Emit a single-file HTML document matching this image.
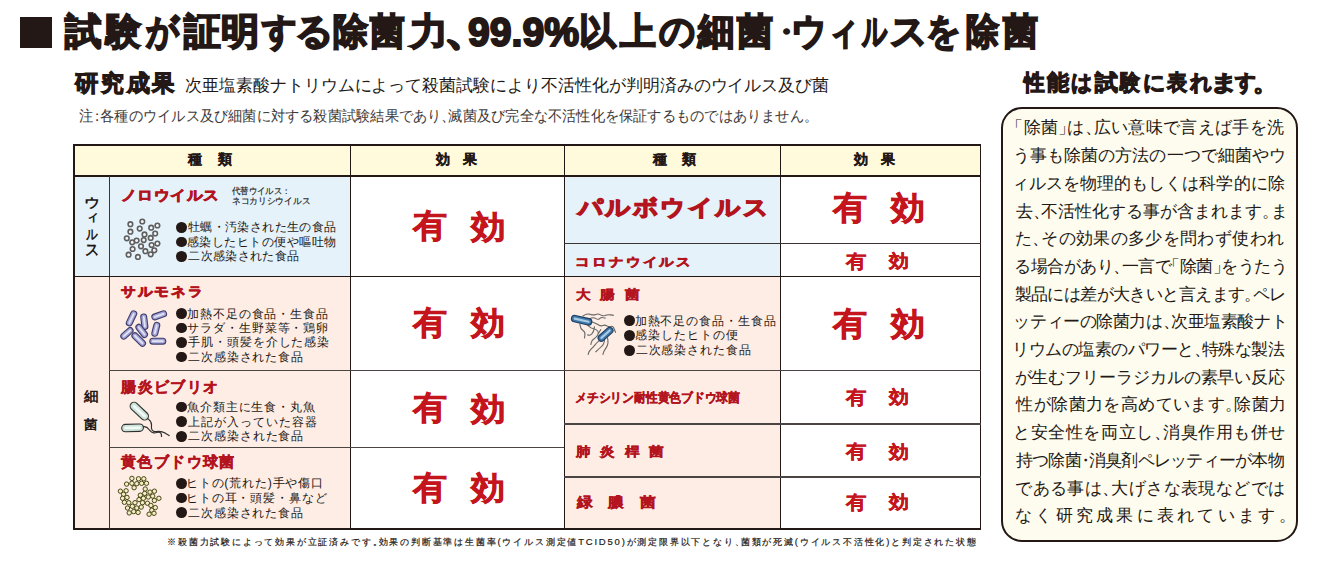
<!DOCTYPE html>
<html lang="ja">
<head>
<meta charset="utf-8">
<style>
html,body{margin:0;padding:0;background:#fff;}
body{width:1323px;height:565px;position:relative;overflow:hidden;font-family:"Liberation Sans",sans-serif;color:#231815;}
.t{position:absolute;white-space:nowrap;line-height:1;transform-origin:0 0;}
.r{position:absolute;}
.ln{position:absolute;background:#231815;}
.box{position:absolute;left:1001px;top:107px;width:293px;height:431px;border:2px solid #231815;border-radius:21px;background:#fdfcee;}
svg{position:absolute;}
.b{position:absolute;border-radius:50%;background:#231815;}
</style>
</head>
<body>
<!-- title square -->
<div class="r" style="left:20px;top:17px;width:32px;height:31px;background:#231815"></div>
<!-- right box -->
<div class="box"></div>
<!-- table backgrounds -->
<div class="r" style="left:74px;top:145px;width:906px;height:30px;background:#fffadc"></div>
<div class="r" style="left:75px;top:176px;width:275px;height:100px;background:#e5f2fa"></div>
<div class="r" style="left:75px;top:276px;width:275px;height:253px;background:#fdede5"></div>
<div class="r" style="left:564px;top:176px;width:216px;height:100px;background:#e5f2fa"></div>
<div class="r" style="left:564px;top:276px;width:216px;height:253px;background:#fdede5"></div>
<!-- table lines -->
<div class="ln" style="left:73px;top:144px;width:908px;height:2px"></div>
<div class="ln" style="left:73px;top:174.5px;width:908px;height:2.5px"></div>
<div class="ln" style="left:73px;top:528px;width:908px;height:2px"></div>
<div class="ln" style="left:73px;top:144px;width:2px;height:386px"></div>
<div class="ln" style="left:979.5px;top:144px;width:1.5px;height:386px"></div>
<div class="ln" style="left:108.5px;top:176px;width:1.2px;height:353px;background:#3a3533"></div>
<div class="ln" style="left:349.5px;top:144px;width:1.4px;height:386px"></div>
<div class="ln" style="left:563.5px;top:144px;width:1.6px;height:386px"></div>
<div class="ln" style="left:779.8px;top:144px;width:1.4px;height:386px"></div>
<div class="ln" style="left:73px;top:275.5px;width:908px;height:1.6px"></div>
<div class="ln" style="left:109px;top:369.6px;width:872px;height:1.5px;background:#4a4443"></div>
<div class="ln" style="left:109px;top:446.8px;width:455px;height:1.5px;background:#4a4443"></div>
<div class="ln" style="left:564px;top:242.5px;width:417px;height:1.5px;background:#3a3533"></div>
<div class="ln" style="left:564px;top:423px;width:417px;height:1.5px;background:#4a4443"></div>
<div class="ln" style="left:564px;top:476.3px;width:417px;height:1.5px;background:#4a4443"></div>
<svg style="left:0;top:0" width="1323" height="565" viewBox="0 0 1323 565"><g fill="#f2f5f7" stroke="#5e5e5e" stroke-width="1.6"><circle cx="130.4" cy="224.2" r="2.3"/><circle cx="142.3" cy="221.5" r="2.3"/><circle cx="139.7" cy="228.6" r="2.3"/><circle cx="151.2" cy="227.7" r="2.3"/><circle cx="157.4" cy="225.5" r="2.3"/><circle cx="130.4" cy="231.7" r="2.3"/><circle cx="144.5" cy="234.4" r="2.3"/><circle cx="155.2" cy="233.5" r="2.3"/><circle cx="126.8" cy="238.3" r="2.3"/><circle cx="132.2" cy="242.3" r="2.3"/><circle cx="136.6" cy="240.5" r="2.3"/><circle cx="143.7" cy="240.1" r="2.3"/><circle cx="150.7" cy="237.9" r="2.3"/><circle cx="157.4" cy="243.6" r="2.3"/><circle cx="151.6" cy="245.0" r="2.3"/><circle cx="141.0" cy="246.3" r="2.3"/><circle cx="132.6" cy="249.0" r="2.3"/><circle cx="145.4" cy="251.2" r="2.3"/><circle cx="154.3" cy="250.3" r="2.3"/><circle cx="128.6" cy="254.7" r="2.3"/><circle cx="137.9" cy="256.9" r="2.3"/><circle cx="150.7" cy="254.3" r="2.3"/></g><line x1="133.7" y1="313.8" x2="129.3" y2="322.9" stroke="#3d3d6b" stroke-width="7.0" stroke-linecap="round"/><line x1="133.7" y1="313.8" x2="129.3" y2="322.9" stroke="#a2a2d4" stroke-width="4.8" stroke-linecap="round"/><line x1="133.7" y1="313.8" x2="129.3" y2="322.9" stroke="#e2e2f5" stroke-width="1.9" stroke-linecap="round"/><line x1="143.7" y1="316.9" x2="144.9" y2="326.5" stroke="#3d3d6b" stroke-width="7.0" stroke-linecap="round"/><line x1="143.7" y1="316.9" x2="144.9" y2="326.5" stroke="#a2a2d4" stroke-width="4.8" stroke-linecap="round"/><line x1="143.7" y1="316.9" x2="144.9" y2="326.5" stroke="#e2e2f5" stroke-width="1.9" stroke-linecap="round"/><line x1="154.8" y1="316.9" x2="163.6" y2="313.8" stroke="#3d3d6b" stroke-width="7.0" stroke-linecap="round"/><line x1="154.8" y1="316.9" x2="163.6" y2="313.8" stroke="#a2a2d4" stroke-width="4.8" stroke-linecap="round"/><line x1="154.8" y1="316.9" x2="163.6" y2="313.8" stroke="#e2e2f5" stroke-width="1.9" stroke-linecap="round"/><line x1="156.8" y1="325.3" x2="154.8" y2="333.3" stroke="#3d3d6b" stroke-width="7.0" stroke-linecap="round"/><line x1="156.8" y1="325.3" x2="154.8" y2="333.3" stroke="#a2a2d4" stroke-width="4.8" stroke-linecap="round"/><line x1="156.8" y1="325.3" x2="154.8" y2="333.3" stroke="#e2e2f5" stroke-width="1.9" stroke-linecap="round"/><line x1="130.1" y1="330.5" x2="123.8" y2="336.1" stroke="#3d3d6b" stroke-width="7.0" stroke-linecap="round"/><line x1="130.1" y1="330.5" x2="123.8" y2="336.1" stroke="#a2a2d4" stroke-width="4.8" stroke-linecap="round"/><line x1="130.1" y1="330.5" x2="123.8" y2="336.1" stroke="#e2e2f5" stroke-width="1.9" stroke-linecap="round"/><line x1="138.9" y1="327.3" x2="144.5" y2="334.5" stroke="#3d3d6b" stroke-width="7.0" stroke-linecap="round"/><line x1="138.9" y1="327.3" x2="144.5" y2="334.5" stroke="#a2a2d4" stroke-width="4.8" stroke-linecap="round"/><line x1="138.9" y1="327.3" x2="144.5" y2="334.5" stroke="#e2e2f5" stroke-width="1.9" stroke-linecap="round"/><line x1="134.9" y1="335.7" x2="142.5" y2="343.2" stroke="#3d3d6b" stroke-width="7.0" stroke-linecap="round"/><line x1="134.9" y1="335.7" x2="142.5" y2="343.2" stroke="#a2a2d4" stroke-width="4.8" stroke-linecap="round"/><line x1="134.9" y1="335.7" x2="142.5" y2="343.2" stroke="#e2e2f5" stroke-width="1.9" stroke-linecap="round"/><line x1="152.8" y1="341.2" x2="162.8" y2="341.2" stroke="#3d3d6b" stroke-width="7.0" stroke-linecap="round"/><line x1="152.8" y1="341.2" x2="162.8" y2="341.2" stroke="#a2a2d4" stroke-width="4.8" stroke-linecap="round"/><line x1="152.8" y1="341.2" x2="162.8" y2="341.2" stroke="#e2e2f5" stroke-width="1.9" stroke-linecap="round"/><g fill="none" stroke="#2e2e2e" stroke-width="1.2"><path d="M146.5,417.5 C149,420 152,421 151.5,425 C151,429 152,432 156,431.5 C160,431 162,431 165,433 C167,434.5 169,435 169.5,436"/><path d="M140.5,427.6 C144,426 147,426.5 149,429.5 C151,432.5 154,433.5 157,432.5 C160,431.5 162,433 161.5,437"/></g><line x1="134.1" y1="406.2" x2="144.5" y2="416.1" stroke="#2e2e2e" stroke-width="9" stroke-linecap="round"/><line x1="134.1" y1="406.2" x2="144.5" y2="416.1" stroke="#cde3da" stroke-width="6.8" stroke-linecap="round"/><line x1="134.1" y1="406.2" x2="144.5" y2="416.1" stroke="#f2faf6" stroke-width="2.7" stroke-linecap="round"/><line x1="125.4" y1="428.1" x2="139.7" y2="427.7" stroke="#2e2e2e" stroke-width="8.5" stroke-linecap="round"/><line x1="125.4" y1="428.1" x2="139.7" y2="427.7" stroke="#cde3da" stroke-width="6.3" stroke-linecap="round"/><line x1="125.4" y1="428.1" x2="139.7" y2="427.7" stroke="#f2faf6" stroke-width="2.5" stroke-linecap="round"/><g fill="#f1efc2" stroke="#4a4418" stroke-width="1.0"><circle cx="131.9" cy="478.4" r="2.2"/><circle cx="138.5" cy="478.8" r="2.2"/><circle cx="143.8" cy="478.8" r="2.2"/><circle cx="126.6" cy="484.1" r="2.2"/><circle cx="131.9" cy="483.3" r="2.2"/><circle cx="136.8" cy="483.7" r="2.2"/><circle cx="141.6" cy="483.3" r="2.2"/><circle cx="146.5" cy="483.3" r="2.2"/><circle cx="134.1" cy="487.7" r="2.2"/><circle cx="120.4" cy="491.2" r="2.2"/><circle cx="126.1" cy="490.8" r="2.2"/><circle cx="123.5" cy="494.3" r="2.2"/><circle cx="122.6" cy="498.3" r="2.2"/><circle cx="127.0" cy="497.4" r="2.2"/><circle cx="124.4" cy="502.3" r="2.2"/><circle cx="128.8" cy="502.7" r="2.2"/><circle cx="127.5" cy="508.0" r="2.2"/><circle cx="132.3" cy="506.3" r="2.2"/><circle cx="129.2" cy="512.9" r="2.2"/><circle cx="133.7" cy="511.6" r="2.2"/><circle cx="138.1" cy="512.4" r="2.2"/><circle cx="136.8" cy="508.0" r="2.2"/><circle cx="135.0" cy="502.7" r="2.2"/><circle cx="145.2" cy="489.0" r="2.2"/><circle cx="150.0" cy="492.1" r="2.2"/><circle cx="154.4" cy="491.2" r="2.2"/><circle cx="140.3" cy="495.2" r="2.2"/><circle cx="144.7" cy="493.4" r="2.2"/><circle cx="148.3" cy="497.0" r="2.2"/><circle cx="152.7" cy="496.1" r="2.2"/><circle cx="158.9" cy="498.3" r="2.2"/><circle cx="154.4" cy="500.5" r="2.2"/><circle cx="139.0" cy="499.6" r="2.2"/><circle cx="143.4" cy="498.3" r="2.2"/><circle cx="142.5" cy="502.7" r="2.2"/><circle cx="147.4" cy="503.2" r="2.2"/><circle cx="141.2" cy="507.1" r="2.2"/><circle cx="150.9" cy="505.4" r="2.2"/><circle cx="155.3" cy="507.6" r="2.2"/><circle cx="151.8" cy="510.2" r="2.2"/><circle cx="149.1" cy="514.2" r="2.2"/><circle cx="154.0" cy="513.3" r="2.2"/></g><g fill="none" stroke="#666" stroke-width="1.1"><path d="M582.6,316.3 L584.9,314.9 Q587.2,313.5 590.4,314.4 Q593.6,315.4 595.9,314.4 Q598.2,313.5 600.5,314.9 Q602.8,316.3 605.1,315.4 Q607.4,314.4 610.6,314.9 L613.8,315.4"/><path d="M589.0,319.0 L591.3,318.1 Q593.6,317.2 595.9,318.6 Q598.2,320.0 599.6,318.6 Q601.0,317.2 603.3,317.7 L605.6,318.1"/><path d="M579.8,323.6 L580.3,326.4 Q580.7,329.2 583.0,330.5 Q585.3,331.9 584.9,335.1 L584.4,338.4"/><path d="M587.2,324.6 L589.0,326.4 Q590.8,328.2 593.6,328.7 Q596.4,329.2 597.7,331.0 Q599.1,332.8 597.7,335.1 Q596.4,337.4 594.1,338.8 Q591.8,340.2 591.3,342.5 L590.8,344.8"/><path d="M591.8,321.8 L594.1,322.7 Q596.4,323.6 598.7,325.0 Q601.0,326.4 602.8,325.5 Q604.6,324.6 606.9,325.9 Q609.2,327.3 611.1,326.4 Q612.9,325.5 614.3,329.2 L615.7,332.8"/><path d="M594.5,326.4 L594.1,329.2 Q593.6,331.9 591.8,333.8 Q589.9,335.6 588.5,335.1 L587.2,334.7"/><path d="M601.0,339.3 L598.7,341.1 Q596.4,343.0 595.0,344.8 Q593.6,346.6 591.3,348.9 Q589.0,351.2 588.5,353.1 L588.1,354.9"/><path d="M604.6,339.3 L604.2,342.0 Q603.7,344.8 601.4,346.6 Q599.1,348.5 597.3,350.3 L595.4,352.2"/><path d="M607.4,337.4 L607.9,340.2 Q608.3,343.0 607.4,345.3 Q606.5,347.6 605.1,349.4 Q603.7,351.2 603.3,353.1 L602.8,354.9"/><path d="M601.0,329.2 L599.6,331.5 L598.2,333.8"/></g><line x1="574.7" y1="318.6" x2="588.5" y2="321.8" stroke="#1d3d63" stroke-width="7.6" stroke-linecap="round"/><line x1="574.7" y1="318.6" x2="588.5" y2="321.8" stroke="#3f78a8" stroke-width="5.3999999999999995" stroke-linecap="round"/><line x1="574.7" y1="318.6" x2="588.5" y2="321.8" stroke="#a9cbe6" stroke-width="2.2" stroke-linecap="round"/><line x1="609.7" y1="330.5" x2="601.4" y2="337.9" stroke="#1d3d63" stroke-width="7.6" stroke-linecap="round"/><line x1="609.7" y1="330.5" x2="601.4" y2="337.9" stroke="#3f78a8" stroke-width="5.3999999999999995" stroke-linecap="round"/><line x1="609.7" y1="330.5" x2="601.4" y2="337.9" stroke="#a9cbe6" stroke-width="2.2" stroke-linecap="round"/></svg>
<div class="t" style="left:65.1px;top:13.67px;font-size:36.7px;transform:scaleX(0.9843);font-weight:bold;-webkit-text-stroke:1.83px #231815">試</div>
<div class="t" style="left:105.89px;top:13.67px;font-size:36.7px;transform:scaleX(0.9476);font-weight:bold;-webkit-text-stroke:1.83px #231815">験</div>
<div class="t" style="left:146.37px;top:13.67px;font-size:36.7px;transform:scaleX(0.8819);font-weight:bold;-webkit-text-stroke:1.83px #231815">が</div>
<div class="t" style="left:184.29px;top:13.67px;font-size:36.7px;transform:scaleX(0.9904);font-weight:bold;-webkit-text-stroke:1.83px #231815">証</div>
<div class="t" style="left:221.23px;top:13.67px;font-size:36.7px;transform:scaleX(1.0370);font-weight:bold;-webkit-text-stroke:1.83px #231815">明</div>
<div class="t" style="left:261.95px;top:13.67px;font-size:36.7px;transform:scaleX(0.9281);font-weight:bold;-webkit-text-stroke:1.83px #231815">す</div>
<div class="t" style="left:294.89px;top:13.67px;font-size:36.7px;transform:scaleX(1.0284);font-weight:bold;-webkit-text-stroke:1.83px #231815">る</div>
<div class="t" style="left:333.25px;top:13.67px;font-size:36.7px;transform:scaleX(0.9434);font-weight:bold;-webkit-text-stroke:1.83px #231815">除</div>
<div class="t" style="left:370.33px;top:13.67px;font-size:36.7px;transform:scaleX(0.9354);font-weight:bold;-webkit-text-stroke:1.83px #231815">菌</div>
<div class="t" style="left:409.9px;top:13.67px;font-size:36.7px;transform:scaleX(1.0246);font-weight:bold;-webkit-text-stroke:1.83px #231815">力</div>
<div class="t" style="left:578.84px;top:13.67px;font-size:36.7px;transform:scaleX(0.9955);font-weight:bold;-webkit-text-stroke:1.83px #231815">以</div>
<div class="t" style="left:620.16px;top:13.67px;font-size:36.7px;transform:scaleX(0.9668);font-weight:bold;-webkit-text-stroke:1.83px #231815">上</div>
<div class="t" style="left:659.4px;top:13.67px;font-size:36.7px;transform:scaleX(0.9646);font-weight:bold;-webkit-text-stroke:1.83px #231815">の</div>
<div class="t" style="left:697.81px;top:13.67px;font-size:36.7px;transform:scaleX(0.9847);font-weight:bold;-webkit-text-stroke:1.83px #231815">細</div>
<div class="t" style="left:737.07px;top:13.67px;font-size:36.7px;transform:scaleX(0.9694);font-weight:bold;-webkit-text-stroke:1.83px #231815">菌</div>
<div class="t" style="left:791.37px;top:13.67px;font-size:36.7px;transform:scaleX(0.9637);font-weight:bold;-webkit-text-stroke:1.83px #231815">ウ</div>
<div class="t" style="left:828.08px;top:13.67px;font-size:36.7px;transform:scaleX(0.8257);font-weight:bold;-webkit-text-stroke:1.83px #231815">ィ</div>
<div class="t" style="left:862.28px;top:13.67px;font-size:36.7px;transform:scaleX(0.6675);font-weight:bold;-webkit-text-stroke:1.83px #231815">ル</div>
<div class="t" style="left:890px;top:13.67px;font-size:36.7px;transform:scaleX(0.9971);font-weight:bold;-webkit-text-stroke:1.83px #231815">ス</div>
<div class="t" style="left:925.98px;top:13.67px;font-size:36.7px;transform:scaleX(0.9276);font-weight:bold;-webkit-text-stroke:1.83px #231815">を</div>
<div class="t" style="left:965.67px;top:13.67px;font-size:36.7px;transform:scaleX(0.8908);font-weight:bold;-webkit-text-stroke:1.83px #231815">除</div>
<div class="t" style="left:1003.04px;top:13.67px;font-size:36.7px;transform:scaleX(0.9432);font-weight:bold;-webkit-text-stroke:1.83px #231815">菌</div>
<div class="t" style="left:444.26px;top:9.79px;font-size:41.38px;transform:scaleX(1.1424);font-weight:bold;-webkit-text-stroke:2.07px #231815">、</div>
<div class="t" style="left:467.61px;top:12.83px;font-size:39.74px;transform:scaleX(0.9870);font-weight:bold;-webkit-text-stroke:1.99px #231815">99.9%</div>
<div class="t" style="left:772px;top:17.96px;font-size:27.08px;transform:scaleX(1.0535);font-weight:bold;-webkit-text-stroke:1.35px #231815">・</div>
<div class="t" style="left:75.29px;top:71.63px;font-size:22.91px;transform:scaleX(1.0129);font-weight:bold;-webkit-text-stroke:1.15px #231815">研</div>
<div class="t" style="left:101.36px;top:71.63px;font-size:22.91px;transform:scaleX(0.9882);font-weight:bold;-webkit-text-stroke:1.15px #231815">究</div>
<div class="t" style="left:126.58px;top:71.63px;font-size:22.91px;transform:scaleX(0.9954);font-weight:bold;-webkit-text-stroke:1.15px #231815">成</div>
<div class="t" style="left:152.33px;top:71.63px;font-size:22.91px;transform:scaleX(0.9672);font-weight:bold;-webkit-text-stroke:1.15px #231815">果</div>
<div class="t" style="left:185.33px;top:77.48px;font-size:17.37px;transform:scaleX(0.9972)">次亜塩素酸ナトリウムによって殺菌試験により不活性化が判明済みのウイルス及び菌</div>
<div class="t" style="left:78.72px;top:107.54px;font-size:15.37px;transform:scaleX(0.9480);color:#3e3a39">注<span style="margin-left:-0.25em;margin-right:-0.25em">：</span>各種のウイルス及び細菌に対する殺菌試験結果であり<span style="margin-right:-0.5em">、</span>滅菌及び完全な不活性化を保証するものではありません<span style="margin-right:-0.5em">。</span></div>
<div class="t" style="left:1023.83px;top:71.62px;font-size:22.43px;transform:scaleX(0.9388);font-weight:bold;-webkit-text-stroke:1.12px #231815">性</div>
<div class="t" style="left:1046.85px;top:71.62px;font-size:22.43px;transform:scaleX(1.0022);font-weight:bold;-webkit-text-stroke:1.12px #231815">能</div>
<div class="t" style="left:1071.35px;top:71.62px;font-size:22.43px;transform:scaleX(0.9485);font-weight:bold;-webkit-text-stroke:1.12px #231815">は</div>
<div class="t" style="left:1094.91px;top:71.62px;font-size:22.43px;transform:scaleX(1.0394);font-weight:bold;-webkit-text-stroke:1.12px #231815">試</div>
<div class="t" style="left:1120.32px;top:71.62px;font-size:22.43px;transform:scaleX(0.9078);font-weight:bold;-webkit-text-stroke:1.12px #231815">験</div>
<div class="t" style="left:1142.86px;top:71.62px;font-size:22.43px;transform:scaleX(0.9970);font-weight:bold;-webkit-text-stroke:1.12px #231815">に</div>
<div class="t" style="left:1166.62px;top:71.62px;font-size:22.43px;transform:scaleX(0.9080);font-weight:bold;-webkit-text-stroke:1.12px #231815">表</div>
<div class="t" style="left:1190.04px;top:71.62px;font-size:22.43px;transform:scaleX(0.9816);font-weight:bold;-webkit-text-stroke:1.12px #231815">れ</div>
<div class="t" style="left:1210.04px;top:71.62px;font-size:22.43px;transform:scaleX(1.2618);font-weight:bold;-webkit-text-stroke:1.12px #231815">ま</div>
<div class="t" style="left:1234.85px;top:71.62px;font-size:22.43px;transform:scaleX(0.9448);font-weight:bold;-webkit-text-stroke:1.12px #231815">す</div>
<div class="t" style="left:1253.25px;top:69.5px;font-size:25.36px;transform:scaleX(0.9859);font-weight:bold;-webkit-text-stroke:0.76px #231815">。</div>
<div class="t" style="left:1014.51px;top:119.17px;font-size:16.5px;letter-spacing:0.32px"><span style="margin-left:-0.5em">「</span>除菌<span style="margin-right:-0.5em">」</span>は<span style="margin-right:-0.5em">、</span>広い意味で言えば手を洗</div>
<div class="t" style="left:1013.03px;top:147.32px;font-size:16.5px;letter-spacing:0.06px">う事も除菌の方法の一つで細菌やウ</div>
<div class="t" style="left:1011.53px;top:174.72px;font-size:16.5px;letter-spacing:0.08px">ィルスを物理的もしくは科学的に除</div>
<div class="t" style="left:1015.67px;top:202.95px;font-size:16.5px;letter-spacing:-0.03px">去<span style="margin-right:-0.5em">、</span>不活性化する事が含まれます<span style="margin-right:-0.5em">。</span>ま</div>
<div class="t" style="left:1015.01px;top:230.19px;font-size:16.5px;letter-spacing:0.34px">た<span style="margin-right:-0.5em">、</span>その効果の多少を問わず使われ</div>
<div class="t" style="left:1014.18px;top:257.92px;font-size:16.5px;letter-spacing:-0.46px">る場合があり<span style="margin-right:-0.5em">、</span>一言で<span style="margin-left:-0.5em">「</span>除菌<span style="margin-right:-0.5em">」</span>をうたう</div>
<div class="t" style="left:1014.5px;top:286.1px;font-size:16.5px;letter-spacing:-0.58px">製品には差が大きいと言えます<span style="margin-right:-0.5em">。</span>ペレ</div>
<div class="t" style="left:1013.36px;top:313.28px;font-size:16.5px;letter-spacing:-0.41px">ッティーの除菌力は<span style="margin-right:-0.5em">、</span>次亜塩素酸ナト</div>
<div class="t" style="left:1012.21px;top:341.04px;font-size:16.5px;letter-spacing:-0.5px">リウムの塩素のパワーと<span style="margin-right:-0.5em">、</span>特殊な製法</div>
<div class="t" style="left:1014.5px;top:368.85px;font-size:16.5px;letter-spacing:-0.09px">が生むフリーラジカルの素早い反応</div>
<div class="t" style="left:1016.33px;top:396px;font-size:16.5px;letter-spacing:0.41px">性が除菌力を高めています<span style="margin-right:-0.5em">。</span>除菌力</div>
<div class="t" style="left:1013.2px;top:423.77px;font-size:16.5px;letter-spacing:0.56px">と安全性を両立し<span style="margin-right:-0.5em">、</span>消臭作用も併せ</div>
<div class="t" style="left:1015.84px;top:451.78px;font-size:16.5px;letter-spacing:-0.75px">持つ除菌<span style="margin-left:-0.25em;margin-right:-0.25em">・</span>消臭剤ペレッティーが本物</div>
<div class="t" style="left:1015.17px;top:479.95px;font-size:16.5px;letter-spacing:0.41px">である事は<span style="margin-right:-0.5em">、</span>大げさな表現などでは</div>
<div class="t" style="left:1015.17px;top:506.82px;font-size:16.5px;letter-spacing:3.26px">なく研究成果に表れています<span style="margin-right:-0.5em">。</span></div>
<div class="t" style="left:187.55px;top:153.49px;font-size:13.79px;letter-spacing:1.21px;font-weight:bold;-webkit-text-stroke:0.28px #231815">種　類</div>
<div class="t" style="left:435.55px;top:153.49px;font-size:13.79px;letter-spacing:-0.03px;font-weight:bold;-webkit-text-stroke:0.28px #231815">効　果</div>
<div class="t" style="left:652.55px;top:153.49px;font-size:13.79px;letter-spacing:0.51px;font-weight:bold;-webkit-text-stroke:0.28px #231815">種　類</div>
<div class="t" style="left:854.15px;top:153.49px;font-size:13.79px;letter-spacing:-0.33px;font-weight:bold;-webkit-text-stroke:0.28px #231815">効　果</div>
<div class="t" style="left:84.41px;top:197.13px;font-size:12.67px;transform:scaleX(1.2370);font-weight:bold">ウ</div>
<div class="t" style="left:85.87px;top:209.97px;font-size:13.38px;transform:scaleX(1.0312);font-weight:bold">ィ</div>
<div class="t" style="left:86.08px;top:227.6px;font-size:13.77px;transform:scaleX(0.8318);font-weight:bold">ル</div>
<div class="t" style="left:84.93px;top:242.01px;font-size:15.69px;transform:scaleX(0.8856);font-weight:bold">ス</div>
<div class="t" style="left:83.89px;top:390.22px;font-size:13.62px;transform:scaleX(1.0406);font-weight:bold">細</div>
<div class="t" style="left:84px;top:417.97px;font-size:13.06px;transform:scaleX(1.0332);font-weight:bold">菌</div>
<div class="t" style="left:121.39px;top:188.82px;font-size:13.67px;letter-spacing:0.68px;transform:scaleX(1.1200);font-weight:bold;color:#b3141d;-webkit-text-stroke:0.82px #b3141d">ノロウイルス</div>
<div class="t" style="left:232.16px;top:186.68px;font-size:8.56px;transform:scaleX(0.9299);color:#222;-webkit-text-stroke:0.17px #222">代替ウイルス：</div>
<div class="t" style="left:231.66px;top:196.57px;font-size:8.78px;transform:scaleX(0.9660);color:#222;-webkit-text-stroke:0.18px #222">ネコカリシウイルス</div>
<div class="t" style="left:121.4px;top:286.08px;font-size:12.83px;letter-spacing:1.92px;transform:scaleX(1.1200);font-weight:bold;color:#b3141d;-webkit-text-stroke:0.77px #b3141d">サルモネラ</div>
<div class="t" style="left:121.13px;top:379.76px;font-size:14.53px;letter-spacing:1.4px;font-weight:bold;color:#b3141d;-webkit-text-stroke:0.44px #b3141d">腸炎ビブリオ</div>
<div class="t" style="left:120.95px;top:454.96px;font-size:14.53px;letter-spacing:1.41px;font-weight:bold;color:#b3141d;-webkit-text-stroke:0.44px #b3141d">黄色ブドウ球菌</div>
<div class="t" style="left:577.5px;top:196.8px;font-size:22.33px;letter-spacing:1.48px;transform:scaleX(1.1200);font-weight:bold;color:#b3141d;-webkit-text-stroke:1.34px #b3141d">パルボウイルス</div>
<div class="t" style="left:574.69px;top:255.51px;font-size:11.72px;letter-spacing:2.07px;transform:scaleX(1.2000);font-weight:bold;color:#b3141d;-webkit-text-stroke:0.7px #b3141d">コロナウイルス</div>
<div class="t" style="left:575.55px;top:288px;font-size:13.37px;letter-spacing:-2.15px;transform:scaleX(1.1200);font-weight:bold;color:#b3141d;-webkit-text-stroke:0.4px #b3141d">大　腸　菌</div>
<div class="t" style="left:575.13px;top:391.2px;font-size:13.17px;transform:scaleX(0.9069);font-weight:bold;color:#b3141d;-webkit-text-stroke:0.4px #b3141d">メチシリン耐性黄色ブドウ球菌</div>
<div class="t" style="left:576.34px;top:445px;font-size:13.17px;letter-spacing:-2.09px;transform:scaleX(1.1200);font-weight:bold;color:#b3141d;-webkit-text-stroke:0.4px #b3141d">肺　炎　桿　菌</div>
<div class="t" style="left:576.62px;top:496px;font-size:13.86px;letter-spacing:-0.02px;transform:scaleX(1.1200);font-weight:bold;color:#b3141d;-webkit-text-stroke:0.42px #b3141d">緑　膿　菌</div>
<div class="t" style="left:187.8px;top:221.35px;font-size:12.1px;letter-spacing:0.41px">牡蠣・汚染された生の食品</div>
<div class="t" style="left:186.92px;top:235.95px;font-size:12.1px;letter-spacing:0.5px">感染したヒトの便や嘔吐物</div>
<div class="t" style="left:188.36px;top:250.09px;font-size:12.1px;letter-spacing:0.33px">二次感染された食品</div>
<div class="t" style="left:187.43px;top:307.61px;font-size:12.4px;letter-spacing:0.82px">加熱不足の食品・生食品</div>
<div class="t" style="left:186.9px;top:321.55px;font-size:12.4px;letter-spacing:0.95px">サラダ・生野菜等・鶏卵</div>
<div class="t" style="left:188.35px;top:336px;font-size:12.4px;letter-spacing:0.88px">手肌・頭髪を介した感染</div>
<div class="t" style="left:188.15px;top:350.56px;font-size:12.4px;letter-spacing:0.85px">二次感染された食品</div>
<div class="t" style="left:187.03px;top:400.74px;font-size:12.4px;letter-spacing:0.89px">魚介類主に生食・丸魚</div>
<div class="t" style="left:188.35px;top:415.9px;font-size:12.4px;letter-spacing:0.91px">上記が入っていた容器</div>
<div class="t" style="left:188.35px;top:429.94px;font-size:12.4px;letter-spacing:0.86px">二次感染された食品</div>
<div class="t" style="left:185.92px;top:476.8px;font-size:12.4px;letter-spacing:0.81px">ヒトの(荒れた)手や傷口</div>
<div class="t" style="left:185.92px;top:491.63px;font-size:12.4px;letter-spacing:0.88px">ヒトの耳・頭髪・鼻など</div>
<div class="t" style="left:188.15px;top:507.14px;font-size:12.4px;letter-spacing:0.85px">二次感染された食品</div>
<div class="t" style="left:634.63px;top:314.61px;font-size:12.4px;letter-spacing:0.92px">加熱不足の食品・生食品</div>
<div class="t" style="left:634.5px;top:328.85px;font-size:12.4px;letter-spacing:1.14px">感染したヒトの便</div>
<div class="t" style="left:635.75px;top:344.14px;font-size:12.4px;letter-spacing:0.85px">二次感染された食品</div>
<div class="t" style="left:412.83px;top:209.17px;font-size:33.33px;transform:scaleX(1.0294);font-weight:bold;color:#c4141c;-webkit-text-stroke:0.67px #c4141c">有</div>
<div class="t" style="left:471.15px;top:210.82px;font-size:32.04px;transform:scaleX(1.0724);font-weight:bold;color:#c4141c;-webkit-text-stroke:0.64px #c4141c">効</div>
<div class="t" style="left:413.23px;top:306.17px;font-size:33.33px;transform:scaleX(1.0294);font-weight:bold;color:#c4141c;-webkit-text-stroke:0.67px #c4141c">有</div>
<div class="t" style="left:471.05px;top:306.82px;font-size:32.04px;transform:scaleX(1.0562);font-weight:bold;color:#c4141c;-webkit-text-stroke:0.64px #c4141c">効</div>
<div class="t" style="left:412.83px;top:391.17px;font-size:33.33px;transform:scaleX(1.0294);font-weight:bold;color:#c4141c;-webkit-text-stroke:0.67px #c4141c">有</div>
<div class="t" style="left:471.15px;top:392.82px;font-size:32.04px;transform:scaleX(1.0724);font-weight:bold;color:#c4141c;-webkit-text-stroke:0.64px #c4141c">効</div>
<div class="t" style="left:413.23px;top:471.17px;font-size:33.33px;transform:scaleX(1.0294);font-weight:bold;color:#c4141c;-webkit-text-stroke:0.67px #c4141c">有</div>
<div class="t" style="left:471.05px;top:471.82px;font-size:32.04px;transform:scaleX(1.0562);font-weight:bold;color:#c4141c;-webkit-text-stroke:0.64px #c4141c">効</div>
<div class="t" style="left:833.23px;top:190.97px;font-size:33.33px;transform:scaleX(1.0294);font-weight:bold;color:#c4141c;-webkit-text-stroke:0.67px #c4141c">有</div>
<div class="t" style="left:891.05px;top:191.62px;font-size:32.04px;transform:scaleX(1.0562);font-weight:bold;color:#c4141c;-webkit-text-stroke:0.64px #c4141c">効</div>
<div class="t" style="left:845.62px;top:251.81px;font-size:19.19px;transform:scaleX(1.0728);font-weight:bold;color:#c4141c;-webkit-text-stroke:0.38px #c4141c">有</div>
<div class="t" style="left:888.83px;top:251.68px;font-size:18.45px;transform:scaleX(1.0965);font-weight:bold;color:#c4141c;-webkit-text-stroke:0.37px #c4141c">効</div>
<div class="t" style="left:833.33px;top:307.37px;font-size:33.33px;transform:scaleX(1.0294);font-weight:bold;color:#c4141c;-webkit-text-stroke:0.67px #c4141c">有</div>
<div class="t" style="left:891.15px;top:308.02px;font-size:32.04px;transform:scaleX(1.0562);font-weight:bold;color:#c4141c;-webkit-text-stroke:0.64px #c4141c">効</div>
<div class="t" style="left:845.62px;top:387.81px;font-size:19.19px;transform:scaleX(1.0728);font-weight:bold;color:#c4141c;-webkit-text-stroke:0.38px #c4141c">有</div>
<div class="t" style="left:888.83px;top:387.68px;font-size:18.45px;transform:scaleX(1.0965);font-weight:bold;color:#c4141c;-webkit-text-stroke:0.37px #c4141c">効</div>
<div class="t" style="left:845.62px;top:441.81px;font-size:19.19px;transform:scaleX(1.0728);font-weight:bold;color:#c4141c;-webkit-text-stroke:0.38px #c4141c">有</div>
<div class="t" style="left:888.83px;top:442.68px;font-size:18.45px;transform:scaleX(1.0965);font-weight:bold;color:#c4141c;-webkit-text-stroke:0.37px #c4141c">効</div>
<div class="t" style="left:845.62px;top:492.81px;font-size:19.19px;transform:scaleX(1.0728);font-weight:bold;color:#c4141c;-webkit-text-stroke:0.38px #c4141c">有</div>
<div class="t" style="left:888.83px;top:492.68px;font-size:18.45px;transform:scaleX(1.0965);font-weight:bold;color:#c4141c;-webkit-text-stroke:0.37px #c4141c">効</div>
<div class="t" style="left:167.17px;top:537.32px;font-size:9.47px;letter-spacing:1.81px;-webkit-text-stroke:0.19px #231815">※殺菌力試験によって効果が立証済みです<span style="margin-right:-0.5em">。</span>効果の判断基準は生菌率(ウイルス測定値TCID50)が測定限界以下となり<span style="margin-right:-0.5em">、</span>菌類が死滅(ウイルス不活性化)と判定された状態</div>
<div class="b" style="left:176.4px;top:222.2px;width:10.8px;height:10.8px"></div>
<div class="b" style="left:176.4px;top:236.6px;width:10.8px;height:10.8px"></div>
<div class="b" style="left:176.4px;top:251px;width:10.8px;height:10.8px"></div>
<div class="b" style="left:176.4px;top:308.1px;width:10.8px;height:10.8px"></div>
<div class="b" style="left:176.4px;top:322.57px;width:10.8px;height:10.8px"></div>
<div class="b" style="left:176.4px;top:337.04px;width:10.8px;height:10.8px"></div>
<div class="b" style="left:176.4px;top:351.51px;width:10.8px;height:10.8px"></div>
<div class="b" style="left:176.4px;top:401.6px;width:10.8px;height:10.8px"></div>
<div class="b" style="left:176.4px;top:416.3px;width:10.8px;height:10.8px"></div>
<div class="b" style="left:176.4px;top:431px;width:10.8px;height:10.8px"></div>
<div class="b" style="left:176.4px;top:478.1px;width:10.8px;height:10.8px"></div>
<div class="b" style="left:176.4px;top:492.7px;width:10.8px;height:10.8px"></div>
<div class="b" style="left:176.4px;top:507.3px;width:10.8px;height:10.8px"></div>
<div class="b" style="left:624.2px;top:315.1px;width:10.8px;height:10.8px"></div>
<div class="b" style="left:624.2px;top:329.95px;width:10.8px;height:10.8px"></div>
<div class="b" style="left:624.2px;top:344.8px;width:10.8px;height:10.8px"></div>
</body>
</html>
